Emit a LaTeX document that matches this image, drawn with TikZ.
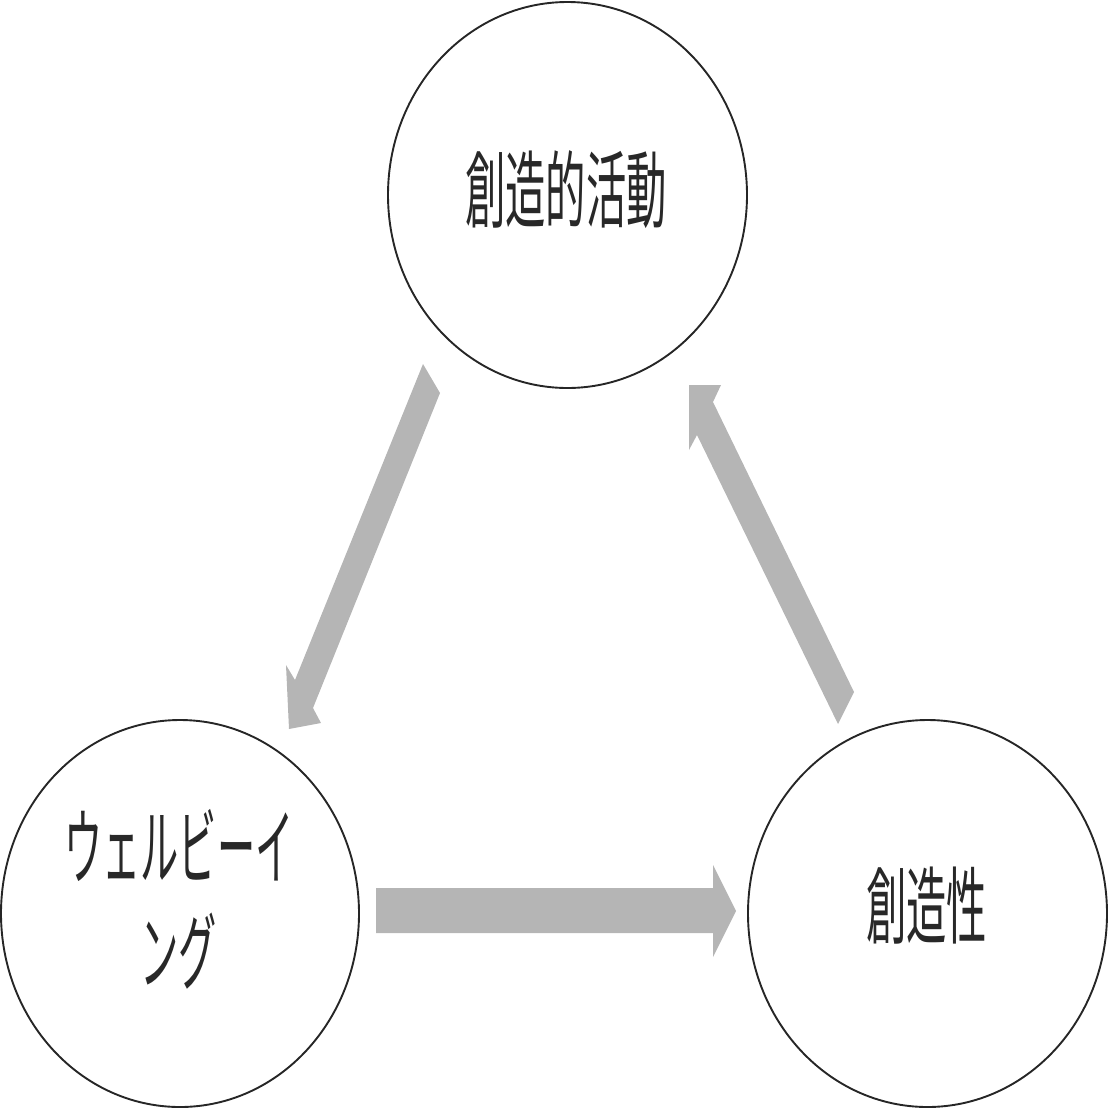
\documentclass[tikz,border=0pt]{standalone}
\usepackage{fontspec}
\newfontfamily\jp{Noto Sans CJK JP}
\usetikzlibrary{shapes.geometric}
\definecolor{arrowgray}{RGB}{181,181,181}
\definecolor{inkgray}{RGB}{40,40,40}
\tikzset{
  bubble/.style={ellipse, draw=black!85, line width=1.9pt, inner sep=0pt},
  label/.style={inner sep=0pt, align=center, text=inkgray},
  blockarrow/.style={fill=arrowgray, draw=none}
}
\newcommand{\jtext}[2]{\scalebox{#1}[1]{\jp\fontsize{84}{105}\selectfont #2}}
\begin{document}
\begin{tikzpicture}[x=1pt,y=-1pt]
\useasboundingbox (0,0) rectangle (1109,1109);
% circles
\node[bubble, minimum width=359pt, minimum height=386pt] (top) at (567.5,195) {};
\node[bubble, minimum width=358pt, minimum height=387pt] (left) at (180,913.5) {};
\node[bubble, minimum width=359pt, minimum height=387pt] (right) at (927.5,913.5) {};
% labels
\node[label] (ttop) at (566,190) {\jtext{0.48}{創造的活動}};
\node[label] (tright) at (926.5,906) {\jtext{0.48}{創造性}};
\node[label] (tleft) at (179,910) {\scalebox{0.455}[1]{\jp\fontsize{84}{105}\selectfont\begin{tabular}{@{}c@{}}ウェルビーイ\\[0pt]ング\end{tabular}}};
% block arrows
\fill[blockarrow] (423,364) -- (440,393) -- (313,708) -- (321,723) -- (289,729) -- (286,665) -- (295,680) -- cycle;
\fill[blockarrow] (689,385) -- (721,385) -- (713,402) -- (854,692) -- (838,724) -- (697,435) -- (689,450) -- cycle;
\fill[blockarrow] (376,888) -- (713,888) -- (713,865) -- (736,911) -- (713,957) -- (713,933) -- (376,933) -- cycle;
\end{tikzpicture}
\end{document}
